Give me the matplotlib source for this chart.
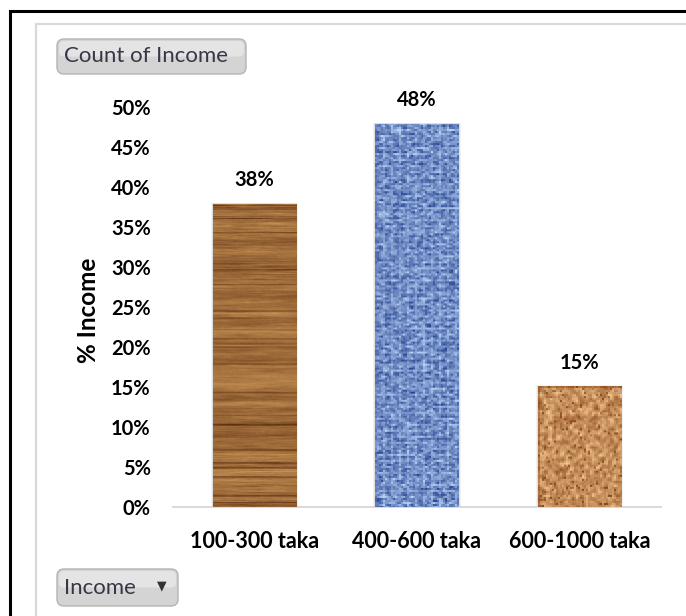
import matplotlib

matplotlib.use("Agg")
import matplotlib.pyplot as plt  # noqa: E402
import numpy as np  # noqa: E402
from matplotlib.patches import FancyBboxPatch, Rectangle  # noqa: E402
from matplotlib.transforms import IdentityTransform  # noqa: E402

# Share of respondents per income band (percent)
categories = ["100-300 taka", "400-600 taka", "600-1000 taka"]
share_pct = [37.9, 47.9, 15.1]
y_ticks = [0, 5, 10, 15, 20, 25, 30, 35, 40, 45, 50]

W_PX, H_PX = 686, 616
FONT = "Lato"


def smooth(a, k, axis):
    kern = np.ones(k) / k
    return np.apply_along_axis(lambda r: np.convolve(r, kern, mode="same"), axis, a)


def upsample(a, f):
    return np.repeat(np.repeat(a, f, axis=0), f, axis=1)


def wood_texture(h, w, rng):
    rows = smooth(rng.normal(size=(h, 1)), 6, 0)[:, 0]
    streak = smooth(rng.normal(size=(h, w)), 25, 1)
    dark = (smooth(rng.random((h, 1)), 3, 0)[:, 0] > 0.74).astype(float)
    t = 0.55 + 0.22 * rows[:, None] + 0.35 * streak - 0.3 * dark[:, None]
    t = np.clip(t, 0, 1)[..., None]
    lo = np.array([90, 45, 15]) / 255
    hi = np.array([215, 160, 95]) / 255
    return lo + (hi - lo) * t


def denim_texture(h, w, rng):
    f = 2
    hh, ww = h // f + 1, w // f + 1
    n = smooth(rng.random((hh, ww)), 2, 1)
    weave = 0.2 * ((np.arange(hh)[:, None] % 3 == 0) | (np.arange(ww)[None, :] % 4 == 0))
    t = np.clip(0.8 * n + weave, 0, 1)
    t = upsample(t, f)[:h, :w][..., None]
    lo = np.array([40, 70, 145]) / 255
    hi = np.array([190, 215, 250]) / 255
    return lo + (hi - lo) * t


def cork_texture(h, w, rng):
    f = 2
    hh, ww = h // f + 1, w // f + 1
    n = smooth(smooth(rng.random((hh, ww)), 2, 0), 2, 1)
    spots = (rng.random((hh, ww)) > 0.95).astype(float)
    t = np.clip(0.55 + 1.1 * (n - 0.5) - 0.5 * spots, 0, 1)
    t = upsample(t, f)[:h, :w][..., None]
    lo = np.array([140, 75, 30]) / 255
    hi = np.array([245, 200, 145]) / 255
    return lo + (hi - lo) * t


textures = [wood_texture, denim_texture, cork_texture]

fig = plt.figure(figsize=(W_PX / 100, H_PX / 100), dpi=100)
fig.patch.set_facecolor("white")

# outer black frame and inner grey chart-area frame (right/bottom run off the edge)
fig.patches.append(Rectangle((10, -20), 720, H_PX - 11 + 20, transform=IdentityTransform(),
                             fill=False, edgecolor="black", linewidth=2.2))
fig.patches.append(Rectangle((36, -20), 700, H_PX - 24 + 20, transform=IdentityTransform(),
                             fill=False, edgecolor="#d9d9d9", linewidth=1.6))

ax = fig.add_axes([173 / W_PX, (H_PX - 507) / H_PX, 488 / W_PX, 400 / H_PX])
x = np.arange(len(categories))
bar_w = 0.513
bars = ax.bar(x, share_pct, width=bar_w, color="none", edgecolor="none", zorder=2)

rng = np.random.default_rng(3)
for b, val, make in zip(bars, share_pct, textures):
    x0 = b.get_x()
    # soft shadow either side of the bar
    for off, a in [(0.012, 0.10), (0.006, 0.16)]:
        ax.add_patch(Rectangle((x0 - off, 0), bar_w + 2 * off, val + off * 8,
                               facecolor="#808080", alpha=a, edgecolor="none", zorder=1))
    tex = make(int(val * 8), 84, rng)
    im = ax.imshow(tex, extent=[x0, x0 + bar_w, 0, val], aspect="auto",
                   interpolation="bilinear", zorder=3)
    im.set_clip_path(b)
    ax.annotate(f"{val:.0f}%", (b.get_x() + bar_w / 2, val), xytext=(0, 17),
                textcoords="offset points", ha="center", va="center",
                fontsize=14.5, fontweight="bold", family=FONT)

ax.set_xlim(-0.5, len(categories) - 0.5)
ax.set_ylim(0, 50)
ax.set_xticks(x)
ax.set_xticklabels(categories, fontsize=15.5, fontweight="bold", family=FONT)
ax.set_yticks(y_ticks)
ax.set_yticklabels([f"{t}%" for t in y_ticks], fontsize=14.5, fontweight="bold", family=FONT)
ax.tick_params(axis="both", length=0)
ax.tick_params(axis="y", pad=16)
ax.tick_params(axis="x", pad=17)
for side in ["top", "right", "left"]:
    ax.spines[side].set_visible(False)
ax.spines["bottom"].set_color("#d9d9d9")
ax.spines["bottom"].set_linewidth(1.4)
ax.set_facecolor("none")

fig.text(88 / W_PX, 1 - 310 / H_PX, "% Income", rotation=90, ha="center", va="center",
         fontsize=17.5, fontweight="bold", family=FONT)


def field_button(x0, y_top, w, h, label):
    y0 = H_PX - y_top - h
    fig.patches.append(FancyBboxPatch((x0, y0), w, h, boxstyle="round,pad=0,rounding_size=7",
                                      transform=IdentityTransform(), facecolor="#d4d4d4",
                                      edgecolor="#b4b4b4", linewidth=1.0))
    fig.patches.append(FancyBboxPatch((x0 + 2, y0 + h / 2), w - 4, h / 2 - 2,
                                      boxstyle="round,pad=0,rounding_size=5",
                                      transform=IdentityTransform(), facecolor="#e4e4e4",
                                      edgecolor="none"))
    fig.text((x0 + 7) / W_PX, (y0 + h / 2) / H_PX, label, ha="left", va="center",
             fontsize=16, color="#3b3547", family=FONT)


field_button(57, 39, 189, 35, "Count of Income")
field_button(57, 569, 121, 37, "Income")
# dropdown arrow on the axis-field button
fig.text(162 / W_PX, 1 - 586 / H_PX, "\u25BC", ha="center", va="center",
         fontsize=9, color="#333333", family="DejaVu Sans")

fig.savefig("out.png", dpi=100)
